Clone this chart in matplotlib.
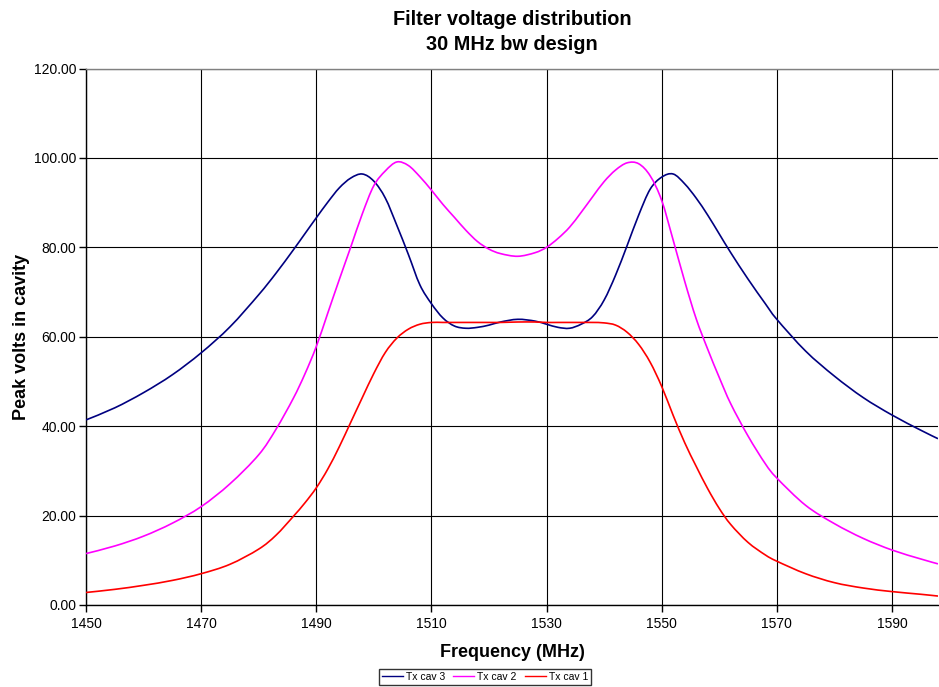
import matplotlib
matplotlib.use("Agg")
import numpy as np
import matplotlib.pyplot as plt
from matplotlib.path import Path
from matplotlib.patches import PathPatch
from matplotlib.lines import Line2D
from matplotlib.ticker import FormatStrFormatter, MultipleLocator

plt.rcParams['font.family'] = ['Liberation Sans', 'DejaVu Sans']

# Frequency points (MHz)
freq = [1450, 1455, 1460, 1465, 1470, 1475, 1480, 1483, 1486, 1488,
        1490, 1492, 1494, 1496, 1498, 1500, 1502, 1504, 1506, 1508,
        1510, 1512, 1514, 1516, 1518, 1520, 1522, 1525, 1528, 1530,
        1532, 1534, 1536, 1538, 1540, 1542, 1544, 1546, 1548, 1550,
        1552, 1554, 1556, 1558, 1560, 1562, 1565, 1568, 1570, 1575,
        1580, 1585, 1590, 1595, 1598]

# Peak volts per cavity
tx_cav3 = [41.4, 44.1, 47.5, 51.5, 56.4, 62.2, 69.4, 74.2, 79.4, 83.0,
           86.6, 90.1, 93.3, 95.5, 96.4, 94.8, 91.0, 84.9, 78.4, 71.6,
           67.4, 64.2, 62.4, 61.9, 62.1, 62.6, 63.3, 63.9, 63.5, 62.8,
           62.1, 61.9, 62.8, 64.5, 68.2, 73.8, 80.4, 87.2, 93.0, 95.7,
           96.4, 94.2, 91.0, 87.2, 83.0, 78.8, 72.9, 67.4, 63.9, 56.8,
           51.2, 46.4, 42.5, 39.1, 37.2]

tx_cav2 = [11.5, 13.2, 15.4, 18.3, 22.0, 27.1, 33.6, 39.3, 46.2, 51.6,
           57.8, 65.3, 72.8, 80.1, 87.5, 93.8, 97.1, 99.1, 98.3, 95.8,
           92.8, 89.6, 86.7, 83.8, 81.3, 79.6, 78.6, 78.0, 78.8, 80.0,
           82.0, 84.5, 87.8, 91.3, 94.7, 97.3, 98.9, 98.7, 96.0, 90.5,
           81.6, 72.4, 64.0, 57.2, 50.9, 45.0, 37.8, 31.6, 28.4, 22.3,
           18.2, 14.9, 12.3, 10.3, 9.2]

tx_cav1 = [2.8, 3.5, 4.4, 5.5, 7.0, 9.1, 12.5, 15.6, 19.8, 22.8,
           26.2, 30.4, 35.4, 40.9, 46.4, 51.8, 56.5, 59.7, 61.7, 62.8,
           63.2, 63.2, 63.2, 63.2, 63.2, 63.2, 63.2, 63.3, 63.3, 63.2,
           63.2, 63.2, 63.2, 63.2, 63.1, 62.6, 61.0, 58.3, 54.3, 48.9,
           42.4, 36.3, 31.0, 26.0, 21.6, 18.0, 14.0, 11.2, 9.8, 7.0,
           5.0, 3.8, 3.0, 2.4, 2.0]

series = [("Tx cav 3", tx_cav3, '#000080'),
          ("Tx cav 2", tx_cav2, '#FF00FF'),
          ("Tx cav 1", tx_cav1, '#FF0000')]

x_ticks = [1450, 1470, 1490, 1510, 1530, 1550, 1570, 1590]


def smoothed_path(xs, ys):
    """Cubic Bezier path through the points (smoothed-line style)."""
    pts = np.column_stack([xs, ys]).astype(float)
    n = len(pts)
    verts = [pts[0]]
    codes = [Path.MOVETO]
    for i in range(n - 1):
        p0 = pts[i - 1] if i > 0 else pts[i]
        p1 = pts[i]
        p2 = pts[i + 1]
        p3 = pts[i + 2] if i + 2 < n else pts[i + 1]
        c1 = p1 + (p2 - p0) / 6.0
        c2 = p2 - (p3 - p1) / 6.0
        verts.extend([c1, c2, p2])
        codes.extend([Path.CURVE4] * 3)
    return Path(verts, codes)


fig = plt.figure(figsize=(9.39, 6.87), dpi=100)
ax = fig.add_axes([86 / 939, 1 - 605 / 687, 852 / 939, 536.5 / 687])

handles = []
for name, vals, col in series:
    patch = PathPatch(smoothed_path(freq, vals), facecolor='none',
                      edgecolor=col, lw=1.2, transform=ax.transData,
                      zorder=3)
    ax.add_patch(patch)
    handles.append(Line2D([], [], color=col, lw=1.0, label=name))

ax.set_xlim(1450, 1598)
ax.set_ylim(0, 120)
ax.set_xticks(x_ticks)
ax.yaxis.set_major_locator(MultipleLocator(20))
ax.yaxis.set_major_formatter(FormatStrFormatter('%.2f'))
ax.grid(True, color='black', lw=0.8)
ax.set_axisbelow(True)

ax.spines['right'].set_visible(False)
ax.spines['top'].set_color('#808080')
ax.spines['top'].set_linewidth(1.0)
ax.spines['left'].set_linewidth(1.0)
ax.spines['bottom'].set_linewidth(1.0)
ax.tick_params(axis='both', direction='out', length=5, width=1,
               labelsize=10, colors='black')
ax.tick_params(axis='y', pad=2)
ax.tick_params(axis='x', pad=4)

ax.set_title('Filter voltage distribution\n30 MHz bw design',
             fontsize=14.3, fontweight='bold', pad=13, linespacing=1.45)
ax.set_xlabel('Frequency (MHz)', fontsize=13, fontweight='bold', labelpad=9)
ax.set_ylabel('Peak volts in cavity', fontsize=13, fontweight='bold', labelpad=3)

leg = fig.legend(handles=handles, loc='center', ncol=3,
                 bbox_to_anchor=(485 / 939, 1 - 677 / 687), fontsize=7.5,
                 frameon=True, fancybox=False, edgecolor='black',
                 handlelength=2.0, handletextpad=0.3, columnspacing=0.8,
                 borderpad=0.3)
leg.get_frame().set_linewidth(1.0)

fig.savefig('out.png', dpi=100)
